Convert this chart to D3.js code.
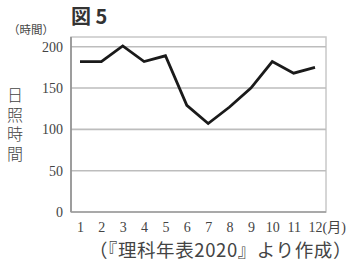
<!DOCTYPE html>
<html><head><meta charset="utf-8">
<script src="https://cdn.jsdelivr.net/npm/d3@7"></script>
<style>body{margin:0;background:#fff}svg{display:block}</style>
</head><body>
<svg id="c" width="354" height="265"></svg>
<script>
const months = [1,2,3,4,5,6,7,8,9,10,11,12];
const hours = [182,182,201,182,189,129,107,127,150,182,168,175];
const yTicks = [0,50,100,150,200];
const monthLabels = ["1","2","3","4","5","6","7","8","9","10","11","12(月)"];

const svg = d3.select("#c");
const serif = "'Liberation Serif','DejaVu Serif','Noto Sans CJK JP',serif";
const cjk = "'Noto Sans CJK JP','Noto Sans CJK SC',sans-serif";

const L=71, R=326, T=37, B=212;
const x = d3.scalePoint().domain(months).range([80,315]);
const y = d3.scaleLinear().domain([0,200]).range([B,46.7]);

// frame
svg.append("rect").attr("x",L).attr("y",T).attr("width",R-L).attr("height",B-T)
  .attr("fill","none").attr("stroke","#c8c8c8").attr("stroke-width",1.5);

// gridlines
svg.append("g").selectAll("line").data(yTicks.filter(d=>d>0)).join("line")
  .attr("x1",L).attr("x2",R).attr("y1",d=>y(d)).attr("y2",d=>y(d))
  .attr("stroke","#bdbdbd").attr("stroke-width",1.6);

// axes lines
svg.append("line").attr("x1",L).attr("x2",L).attr("y1",T).attr("y2",B)
  .attr("stroke","#8a8a8a").attr("stroke-width",1.5);
svg.append("line").attr("x1",L).attr("x2",R).attr("y1",B).attr("y2",B)
  .attr("stroke","#9a9a9a").attr("stroke-width",1.5);

// y tick labels
const yAxis = d3.axisLeft(y).tickValues(yTicks).tickSize(0).tickPadding(8);
const ga = svg.append("g").attr("transform",`translate(${L},0)`).call(yAxis);
ga.select(".domain").remove();
ga.selectAll("text").attr("font-family",serif).attr("font-size",14).attr("fill","#444");

// x tick labels
const xAxis = d3.axisBottom(x).tickSize(0).tickPadding(10).tickFormat((d,i)=>monthLabels[i]);
const gx = svg.append("g").attr("transform",`translate(0,${B})`).call(xAxis);
gx.select(".domain").remove();
gx.selectAll("text").attr("font-family",serif).attr("font-size",14).attr("fill","#444")
  .each(function(d,i){ if(i===11){ d3.select(this).attr("text-anchor","start").attr("dx",-7); }});

// line
svg.append("path").datum(months.map((m,i)=>[m,hours[i]]))
  .attr("d",d3.line().x(d=>x(d[0])).y(d=>y(d[1])))
  .attr("fill","none").attr("stroke","#1a1a1a").attr("stroke-width",2.8).attr("stroke-linejoin","miter");

// title
svg.append("text").attr("x",71).attr("y",24).attr("font-family",cjk).attr("font-weight","bold")
  .attr("font-size",20).attr("fill","#333").text("図 5");
svg.append("text").attr("x",8).attr("y",34).attr("font-family",cjk)
  .attr("font-size",11.5).attr("fill","#444").text("（時間）");

// vertical y label
svg.append("text").attr("x",15).attr("y",87)
  .attr("writing-mode","vertical-rl").attr("letter-spacing",3.5)
  .attr("font-family",cjk).attr("font-size",16).attr("font-weight",300).attr("fill","#444").text("日照時間");

// caption
svg.append("text").attr("x",352).attr("y",257).attr("text-anchor","end")
  .attr("font-family",cjk).attr("font-size",18.5).attr("letter-spacing",0.6).attr("fill","#444").text("（『理科年表2020』より作成）");
</script>
</body></html>
